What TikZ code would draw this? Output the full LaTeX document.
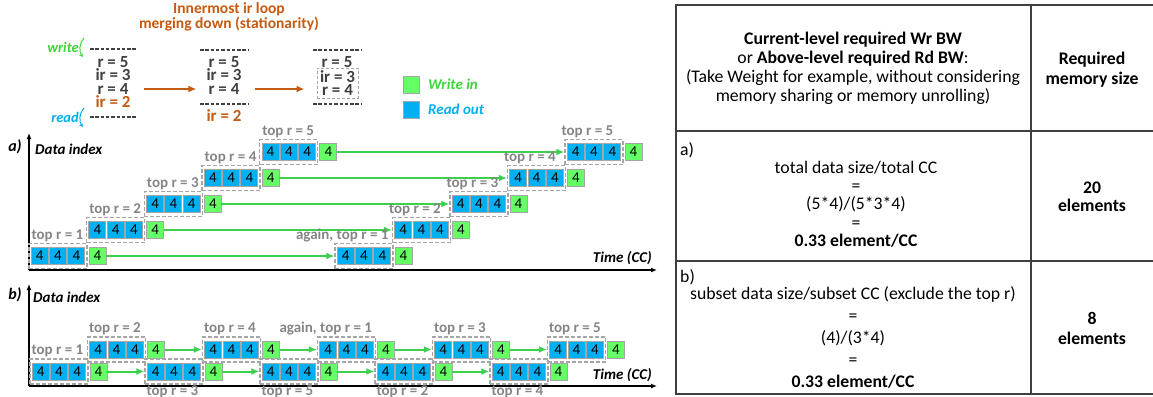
\documentclass[tikz,border=0pt]{standalone}
\usepackage{fontspec}
\setmainfont{Carlito}
\usetikzlibrary{arrows.meta,positioning}
\definecolor{rdblue}{HTML}{00B0F0}
\definecolor{wrgreen}{HTML}{66FF66}
\definecolor{arrgreen}{HTML}{3CD04E}
\definecolor{txtgreen}{HTML}{3BD63B}
\definecolor{sqgray}{HTML}{A6A6A6}
\definecolor{lblgray}{HTML}{858585}
\definecolor{stkgray}{HTML}{404040}
\definecolor{mgorange}{HTML}{C55A11}
\tikzset{
    every node/.style={font=\fontsize{15}{18}\selectfont},
    rdsq/.style={draw=sqgray, fill=rdblue, line width=1pt, minimum size=17pt, inner sep=0, outer sep=0},
    wrsq/.style={rdsq, fill=wrgreen},
    dbox/.style={draw=sqgray, dash pattern=on 4pt off 2pt, line width=1.3pt, minimum width=58pt, minimum height=25pt, inner sep=0},
    toplbl/.style={text=lblgray, font=\fontsize{15}{18}\selectfont\bfseries, inner sep=1pt},
    stk/.style={text=stkgray, font=\fontsize{17}{13}\selectfont\bfseries, inner sep=0, text height=10pt, text depth=0pt},
    dashln/.style={draw=stkgray, dash pattern=on 3.5pt off 1.8pt, line width=1.3pt},
    wrarr/.style={-{Latex[length=8pt,width=7pt]}, draw=arrgreen, line width=2pt},
    mgarr/.style={-{Latex[length=8pt,width=7pt]}, draw=mgorange, line width=2pt, shorten <=15pt, shorten >=12pt},
    axis/.style={-{Latex[length=6pt,width=5pt]}, line width=1.4pt},
    axlbl/.style={font=\fontsize{15}{18}\selectfont\bfseries\itshape, inner sep=0},
    cell/.style={align=center, font=\fontsize{17.7}{19}\selectfont, inner sep=0},
}
% one write/read group: three read-out squares in a dashed box, then the write-in square
\newcommand{\wblock}[3]{%
    \node[dbox] (#1) at ({#2},{#3}) {};
    \foreach \s in {-18.3,0,18.3}
        \node[rdsq] at ([xshift=\s pt]#1.center) {4};
    \node[wrsq] (#1-g) at ([xshift=39.5pt]#1.center) {4};
}

\begin{document}
\begin{tikzpicture}[x=1pt, y=-1pt]
    \useasboundingbox (0,0) rectangle (1153,396);

    % loop order, merging down
    \node[align=center, text=mgorange, font=\fontsize{15.5}{13.5}\selectfont\bfseries] (ttl) at (229,17) {Innermost ir loop\\merging down (stationarity)};

    \node[stk] (s1a) at (113,62) {r = 5};
    \node[stk] (s1b) at (113,75) {ir = 3};
    \node[stk] (s1c) at (113,89) {r = 4};
    \node[stk, text=mgorange] (s1d) at (113,102) {ir = 2};
    \draw[dashln] (90,49) -- (137,49);
    \draw[dashln] (90,117) -- (137,117);

    \node[stk] (s2a) at (224,62) {r = 5};
    \node[stk] (s2b) at (224,76) {ir = 3};
    \node[stk] (s2c) at (224,89) {r = 4};
    \node[stk, text=mgorange] (s2d) at (224,116) {ir = 2};
    \draw[dashln] (200,50) -- (248,50);
    \draw[dashln] (200,104) -- (248,104);

    \node[stk] (s3a) at (337,62) {r = 5};
    \node[align=center, text=stkgray, font=\fontsize{17}{13}\selectfont\bfseries, draw=sqgray, dash pattern=on 3pt off 2pt, line width=1pt, inner sep=0, minimum width=41pt, minimum height=30pt] (s3g) at (337.5,83) {ir = 3\\r = 4};
    \draw[dashln] (313,50) -- (362,50);
    \draw[dashln] (313,104) -- (362,104);

    \draw[mgarr] (s1c) -- (s2c);
    \draw[mgarr] (s2c) -- (s2c -| s3g.west);

    \node[axlbl, font=\fontsize{14.5}{18}\selectfont\bfseries\itshape, text=txtgreen, anchor=east] (wr) at (79,47) {write};
    \node[axlbl, font=\fontsize{14.5}{18}\selectfont\bfseries\itshape, text=rdblue, anchor=east] (rd) at (79,117) {read};
    \draw[-{Stealth[length=4pt,width=4pt]}, txtgreen, line width=1pt] (84,38) .. controls (79,43) and (79,52) .. (83,57);
    \draw[-{Stealth[length=4pt,width=4pt]}, rdblue, line width=1pt] (84,108) .. controls (79,113) and (79,122) .. (83,127);

    % legend
    \node[wrsq, minimum width=16pt] (lgw) at (411,84.5) {};
    \node[rdsq, minimum width=16pt] (lgr) at (411,109.5) {};
    \node[axlbl, text=txtgreen, right=9pt of lgw] {Write in};
    \node[axlbl, text=rdblue, right=9pt of lgr] {Read out};

    % a)
    \coordinate (a-o) at (29,270);
    \coordinate (a-y) at (29,133);
    \coordinate (a-x) at (657,270);
    \draw[axis] (a-o) -- (a-y);
    \draw[axis] (a-o) -- (a-x);
    \node[axlbl, font=\fontsize{16}{18}\selectfont\bfseries\itshape] at (15,147) {a)};
    \node[axlbl, anchor=west] at (35,149) {Data index};
    \node[axlbl, anchor=east] at (652,258) {Time (CC)};

    \foreach \k in {1,...,5}{
        \wblock{a\k}{58+57.7*(\k-1)}{256-26*(\k-1)}
        \wblock{c\k}{364+57.5*(\k-1)}{256-26*(\k-1)}
        \draw[wrarr] (a\k-g) -- (c\k);
        \node[toplbl, anchor=south west] at ([xshift=2pt]a\k.north west) {top r = \k};
    }
    \foreach \k in {2,...,5}{
        \node[toplbl, anchor=south west] at ([xshift=-4pt]c\k.north west) {top r = \k};
    }
    \node[toplbl, anchor=south east] at ([xshift=-4pt]c1.north east) {again, top r = 1};

    % b)
    \coordinate (b-o) at (29,386);
    \coordinate (b-y) at (29,284);
    \coordinate (b-x) at (657,386);
    \draw[axis] (b-o) -- (b-y);
    \draw[axis] (b-o) -- (b-x);
    \node[axlbl, font=\fontsize{16}{18}\selectfont\bfseries\itshape] at (15,295) {b)};
    \node[axlbl, anchor=west] at (33,297) {Data index};
    \node[axlbl, anchor=east] at (652,375) {Time (CC)};

    \foreach \i in {1,...,10}{
        \wblock{b\i}{59+57.5*(\i-1)}{349.5+22*mod(\i,2)}
    }
    \foreach \i [evaluate=\i as \j using int(\i+2)] in {1,...,8}{
        \draw[wrarr] (b\i-g) -- (b\j);
    }

    \node[toplbl, anchor=south west] at ([xshift=1pt]b1.north west) {top r = 1};
    \node[toplbl, anchor=south west] at ([xshift=1pt]b2.north west) {top r = 2};
    \node[toplbl, anchor=south west] at ([xshift=1pt]b4.north west) {top r = 4};
    \node[toplbl, anchor=south east] at ([xshift=-3pt]b6.north east) {again, top r = 1};
    \node[toplbl, anchor=south west] at ([xshift=1pt]b8.north west) {top r = 3};
    \node[toplbl, anchor=south west] at ([xshift=1pt]b10.north west) {top r = 5};
    \node[toplbl, anchor=north west] at ([xshift=1pt]b3.south west) {top r = 3};
    \node[toplbl, anchor=north west] at ([xshift=1pt]b5.south west) {top r = 5};
    \node[toplbl, anchor=north west] at ([xshift=1pt]b7.south west) {top r = 2};
    \node[toplbl, anchor=north west] at ([xshift=1pt]b9.south west) {top r = 4};

    % table
    \draw[line width=1.2pt, draw=stkgray] (676,5) rectangle (1165,394);
    \draw[line width=1.2pt, draw=stkgray] (1031,5) -- (1031,394);
    \draw[line width=1.2pt, draw=stkgray] (676,131) -- (1165,131);
    \draw[line width=1.2pt, draw=stkgray] (676,261) -- (1165,261);

    \node[cell] (h1) at (853,68) {\textbf{Current-level required Wr BW}\\or \textbf{Above-level required Rd BW}:\\(Take Weight for example, without considering\\memory sharing or memory unrolling)};
    \node[cell, font=\fontsize{17.7}{20}\selectfont\bfseries] (h2) at (1092,70) {Required\\memory size};

    \node[cell, anchor=west] (ra) at (680,150) {a)};
    \node[cell, font=\fontsize{17.7}{18.3}\selectfont] (ta) at (856,204) {total data size/total CC\\=\\(5*4)/(5*3*4)\\=\\\textbf{0.33 element/CC}};
    \node[cell, font=\fontsize{17.7}{18}\selectfont\bfseries] (ma) at (1092,197) {20\\elements};

    \node[cell, anchor=west] (rb) at (680,277) {b)};
    \node[cell, font=\fontsize{17.7}{22}\selectfont] (tb) at (853,337) {subset data size/subset CC (exclude the top r)\\=\\(4)/(3*4)\\=\\\textbf{0.33 element/CC}};
    \node[cell, font=\fontsize{17.7}{20}\selectfont\bfseries] (mb) at (1092,328) {8\\elements};
\end{tikzpicture}
\end{document}
